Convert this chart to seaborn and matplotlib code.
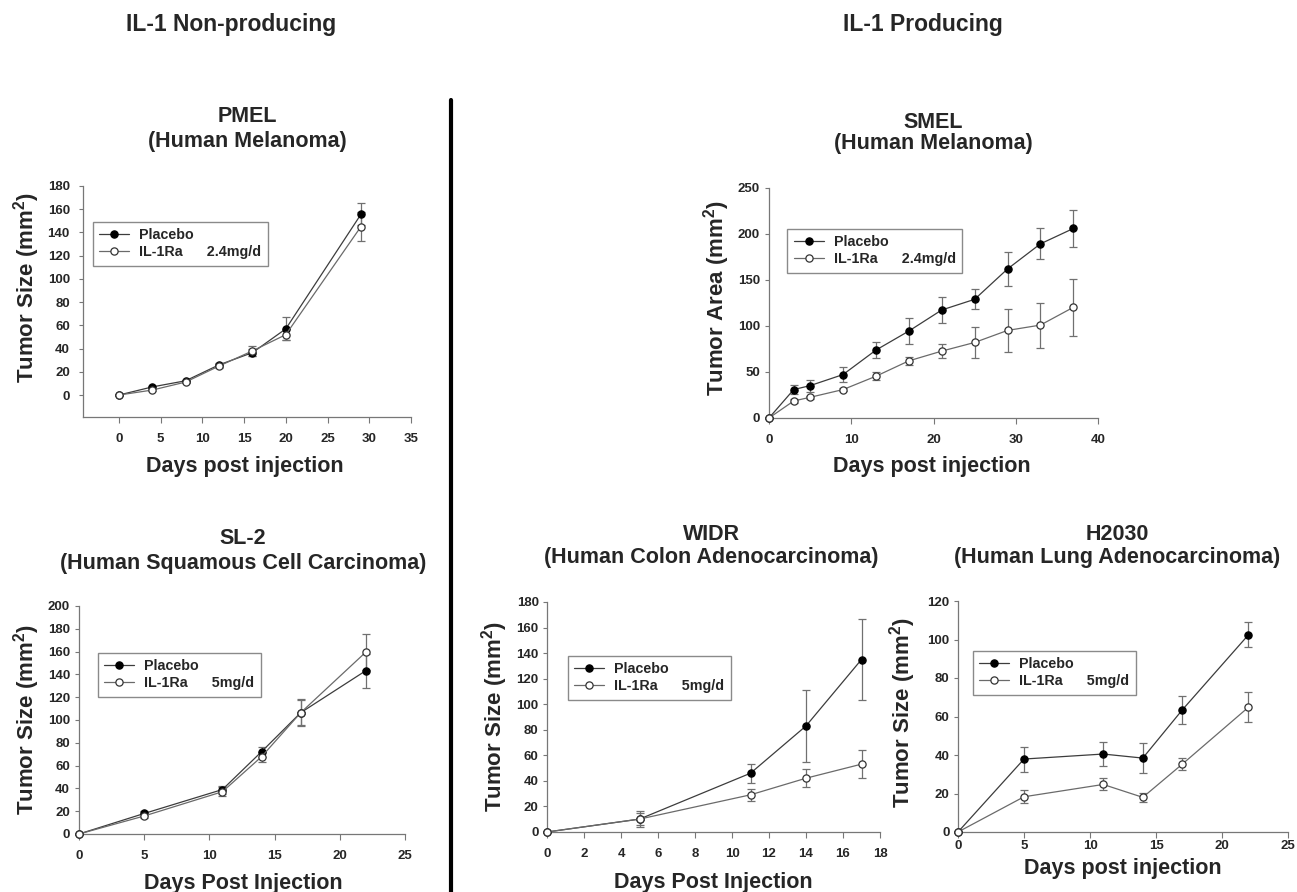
import matplotlib
matplotlib.use("Agg")
import matplotlib.pyplot as plt
from matplotlib.lines import Line2D
import seaborn as sns
import pandas as pd

# values (mean tumour size and error bar half-length)
pmel_days = [0, 4, 8, 12, 16, 20, 29]
pmel_placebo = [0, 7, 12.3, 26, 36.5, 57, 155.6]
pmel_placebo_err = [0, 1, 1, 1.5, 3, 10, 9.5]
pmel_ilra = [0, 4.3, 11.2, 25, 38, 52, 145]
pmel_ilra_err = [0, 1, 1, 1.5, 4, 5, 12.5]

smel_days = [0, 3, 5, 9, 13, 17, 21, 25, 29, 33, 37]
smel_placebo = [0, 30.9, 35.2, 47.2, 73.8, 94.5, 117.4, 129, 162, 189.3, 206]
smel_placebo_err = [0, 5, 6.5, 8.4, 9, 14.5, 14.5, 11, 18.6, 17, 19.7]
smel_ilra = [0, 18.5, 22.5, 30.9, 45.4, 62.1, 72.7, 82.1, 95.2, 101, 120.3]
smel_ilra_err = [0, 2, 1.5, 2, 4.5, 4.4, 7.6, 16.7, 23, 24.4, 31.2]

sl2_days = [0, 5, 11, 14, 17, 22]
sl2_placebo = [0, 18, 39, 72.2, 106.4, 143.3]
sl2_placebo_err = [0, 2, 3.5, 4.4, 11, 15]
sl2_ilra = [0, 15.8, 37.1, 67.8, 106.4, 159.6]
sl2_ilra_err = [0, 2, 4, 4.3, 11.7, 15.5]

widr_days = [0, 5, 11, 14, 17]
widr_placebo = [0, 10.1, 46, 83, 135]
widr_placebo_err = [0, 5, 7.3, 28, 32]
widr_ilra = [0, 10.1, 29.1, 42.1, 53.1]
widr_ilra_err = [0, 6, 4.5, 7, 11]

h2030_days = [0, 5, 11, 14, 17, 22]
h2030_placebo = [0, 37.9, 40.5, 38.4, 63.5, 102.4]
h2030_placebo_err = [0, 6.5, 6.2, 7.8, 7.4, 6.5]
h2030_ilra = [0, 18.3, 24.7, 18, 35.3, 64.8]
h2030_ilra_err = [0, 3.3, 3.1, 2.2, 3.1, 7.8]

group_names = ["Placebo", "IL-1Ra"]
headers = ["IL-1 Non-producing", "IL-1 Producing"]

sns.set_style("ticks")
plt.rcParams["font.family"] = ["Liberation Sans", "DejaVu Sans"]
plt.rcParams["font.weight"] = "bold"
plt.rcParams["mathtext.fontset"] = "custom"
plt.rcParams["mathtext.rm"] = "Liberation Sans:bold"
plt.rcParams["mathtext.bf"] = "Liberation Sans:bold"
plt.rcParams["mathtext.default"] = "rm"

W, H = 1297, 892
fig = plt.figure(figsize=(W / 100, H / 100), dpi=100)

def box(l, t, r, b):
    return [l / W, 1 - b / H, (r - l) / W, (b - t) / H]

panels = [
    dict(name="PMEL", sub="(Human Melanoma)", days=pmel_days,
         p=pmel_placebo, pe=pmel_placebo_err, i=pmel_ilra, ie=pmel_ilra_err,
         box=(83, 186, 411, 417), xlim=(-4.3, 35), ylim=(-18.9, 180),
         xt=range(0, 36, 5), yt=range(0, 181, 20),
         ylab="Tumor Size (mm$^{2}$)", xlab="Days post injection",
         tx=247, ty=(117, 142), ylc=(-0.171, 0.56), xlc=(0.494, -0.216),
         leg=(0.03, 0.844), dose="2.4mg/d", xpad=7.5, ypad=6.5),
    dict(name="SMEL", sub="(Human Melanoma)", days=smel_days,
         p=smel_placebo, pe=smel_placebo_err, i=smel_ilra, ie=smel_ilra_err,
         box=(769, 188, 1098, 418), xlim=(0, 40), ylim=(0, 250),
         xt=range(0, 41, 10), yt=range(0, 251, 50),
         ylab="Tumor Area (mm$^{2}$)", xlab="Days post injection",
         tx=933, ty=(122, 143), ylc=(-0.16, 0.52), xlc=(0.495, -0.213),
         leg=(0.055, 0.822), dose="2.4mg/d", xpad=7.5, ypad=3.5),
    dict(name="SL-2", sub="(Human Squamous Cell Carcinoma)", days=sl2_days,
         p=sl2_placebo, pe=sl2_placebo_err, i=sl2_ilra, ie=sl2_ilra_err,
         box=(79, 606, 405, 834), xlim=(0, 25), ylim=(0, 200),
         xt=range(0, 26, 5), yt=range(0, 201, 20),
         ylab="Tumor Size (mm$^{2}$)", xlab="Days Post Injection",
         tx=243, ty=(538, 563), ylc=(-0.16, 0.5), xlc=(0.503, -0.215),
         leg=(0.058, 0.794), dose="5mg/d", xpad=7.5, ypad=3.5),
    dict(name="WIDR", sub="(Human Colon Adenocarcinoma)", days=widr_days,
         p=widr_placebo, pe=widr_placebo_err, i=widr_ilra, ie=widr_ilra_err,
         box=(547, 602, 880, 832), xlim=(0, 18), ylim=(0, 180),
         xt=range(0, 19, 2), yt=range(0, 181, 20),
         ylab="Tumor Size (mm$^{2}$)", xlab="Days Post Injection",
         tx=711, ty=(535, 558), ylc=(-0.158, 0.5), xlc=(0.5, -0.22),
         leg=(0.063, 0.765), dose="5mg/d", xpad=7.5, ypad=3),
    dict(name="H2030", sub="(Human Lung Adenocarcinoma)", days=h2030_days,
         p=h2030_placebo, pe=h2030_placebo_err, i=h2030_ilra, ie=h2030_ilra_err,
         box=(958, 601, 1288, 832), xlim=(0, 25), ylim=(0, 120),
         xt=range(0, 26, 5), yt=range(0, 121, 20),
         ylab="Tumor Size (mm$^{2}$)", xlab="Days post injection",
         tx=1117, ty=(535, 558), ylc=(-0.167, 0.515), xlc=(0.5, -0.16),
         leg=(0.045, 0.784), dose="5mg/d", xpad=2, ypad=3),
]

styles = {
    "Placebo": dict(color="#3c3c3c", mfc="black", mec="black"),
    "IL-1Ra": dict(color="#6a6a6a", mfc="white", mec="#333333"),
}

for pn in panels:
    ax = fig.add_axes(box(*pn["box"]))
    df = pd.DataFrame({
        "day": list(pn["days"]) * 2,
        "size": pn["p"] + pn["i"],
        "err": pn["pe"] + pn["ie"],
        "group": [group_names[0]] * len(pn["days"]) + [group_names[1]] * len(pn["days"]),
    })
    for g in group_names:
        sub = df[df["group"] == g]
        st = styles[g]
        ax.errorbar(sub["day"], sub["size"], yerr=sub["err"], fmt="none",
                    ecolor="#707070", elinewidth=0.9, capsize=3, capthick=0.9,
                    zorder=2, clip_on=False)
        sns.lineplot(data=sub, x="day", y="size", ax=ax, color=st["color"],
                     linewidth=0.9, marker="o", markersize=5.2,
                     markerfacecolor=st["mfc"], markeredgecolor=st["mec"],
                     markeredgewidth=0.9, errorbar=None, legend=False,
                     zorder=3, clip_on=False)

    ax.set_xlim(*pn["xlim"])
    ax.set_ylim(*pn["ylim"])
    ax.set_xticks(list(pn["xt"]))
    ax.set_yticks(list(pn["yt"]))
    ax.tick_params(axis="x", labelsize=9.5, length=4, width=0.8,
                   color="#777777", pad=pn["xpad"])
    ax.tick_params(axis="y", labelsize=9.5, length=3, width=0.8,
                   color="#777777", pad=pn["ypad"])
    for lab in ax.get_xticklabels() + ax.get_yticklabels():
        lab.set_fontweight("bold")
    sns.despine(ax=ax)
    for s in ("left", "bottom"):
        ax.spines[s].set_color("#777777")
        ax.spines[s].set_linewidth(0.9)

    ax.set_ylabel(pn["ylab"], fontsize=16, fontweight="bold", va="center")
    ax.yaxis.set_label_coords(*pn["ylc"])
    ax.set_xlabel(pn["xlab"], fontsize=15.5, fontweight="bold", va="center")
    ax.xaxis.set_label_coords(*pn["xlc"])

    handles = [
        Line2D([], [], color=styles[g]["color"], lw=0.9, marker="o", ms=5.2,
               mfc=styles[g]["mfc"], mec=styles[g]["mec"], mew=0.9)
        for g in group_names
    ]
    labels = [group_names[0], group_names[1] + "      " + pn["dose"]]
    leg = ax.legend(handles, labels, loc="upper left", bbox_to_anchor=pn["leg"],
                    prop=dict(size=10.3, weight="bold"), frameon=True,
                    fancybox=False, edgecolor="#8a8a8a", framealpha=1,
                    handlelength=2.1, handletextpad=0.7, borderpad=0.45,
                    labelspacing=0.2, borderaxespad=0)
    leg.get_frame().set_linewidth(1.0)

    fig.text(pn["tx"] / W, 1 - pn["ty"][0] / H, pn["name"], ha="center",
             va="center", fontsize=15.5, fontweight="bold")
    fig.text(pn["tx"] / W, 1 - pn["ty"][1] / H, pn["sub"], ha="center",
             va="center", fontsize=15.5, fontweight="bold")

fig.text(231 / W, 1 - 25 / H, headers[0], ha="center", va="center",
         fontsize=16.5, fontweight="bold")
fig.text(923 / W, 1 - 25 / H, headers[1], ha="center", va="center",
         fontsize=16.5, fontweight="bold")

# vertical divider between the two groups
fig.add_artist(Line2D([451 / W, 451 / W], [1 - 100 / H, 0], color="black",
                      linewidth=3, transform=fig.transFigure))

fig.savefig("out.png", dpi=100)
